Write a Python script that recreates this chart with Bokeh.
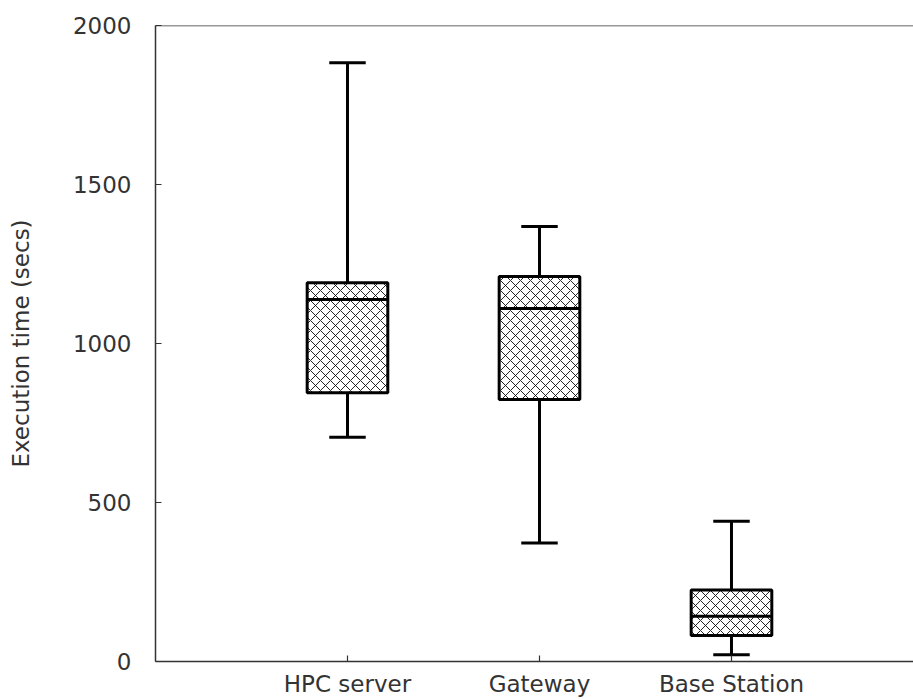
from bokeh.plotting import figure
from bokeh.models import Range1d, FixedTicker, Span
from bokeh.embed import file_html
from bokeh.resources import INLINE

categories = ["HPC server", "Gateway", "Base Station"]
positions = [1, 2, 3]
whisker_low = [705, 373, 21]
q1 = [845, 824, 82]
median = [1138, 1110, 142]
q3 = [1191, 1211, 225]
whisker_high = [1883, 1368, 441]
y_ticks = [0, 500, 1000, 1500, 2000]

box_half = 0.21
cap_half = 0.095

FONT = "DejaVu Sans"
TXT = "#333333"

p = figure(width=913, height=699, output_backend="svg", toolbar_location=None,
           x_range=Range1d(0, 3.948), y_range=Range1d(0, 2000),
           min_border_left=155, min_border_top=25, min_border_bottom=38, min_border_right=0)
p.outline_line_color = None
p.grid.visible = False
p.background_fill_color = "white"
p.border_fill_color = "white"

# whiskers
p.segment(x0=positions, y0=q3, x1=positions, y1=whisker_high, line_color="black", line_width=3)
p.segment(x0=positions, y0=whisker_low, x1=positions, y1=q1, line_color="black", line_width=3)
p.segment(x0=[x - cap_half for x in positions], y0=whisker_high,
          x1=[x + cap_half for x in positions], y1=whisker_high, line_color="black", line_width=3)
p.segment(x0=[x - cap_half for x in positions], y0=whisker_low,
          x1=[x + cap_half for x in positions], y1=whisker_low, line_color="black", line_width=3)

# boxes
p.quad(left=[x - box_half for x in positions], right=[x + box_half for x in positions],
       bottom=q1, top=q3, fill_color="white", line_color="black", line_width=3,
       hatch_pattern="diagonal_cross", hatch_color="black", hatch_scale=10,
       hatch_weight=1, hatch_alpha=0.85)
p.segment(x0=[x - box_half for x in positions], y0=median,
          x1=[x + box_half for x in positions], y1=median, line_color="black", line_width=3)

# top border
p.add_layout(Span(location=2000, dimension="width", line_color="#333333", line_width=1.5))

# axes
p.xaxis.ticker = FixedTicker(ticks=positions)
p.xaxis.major_label_overrides = {pos: c for pos, c in zip(positions, categories)}
p.yaxis.ticker = FixedTicker(ticks=y_ticks)
for ax in (p.xaxis, p.yaxis):
    ax.axis_line_color = "#333333"
    ax.axis_line_width = 1.5
    ax.major_tick_line_color = "#333333"
    ax.major_tick_line_width = 1.2
    ax.major_tick_in = 6
    ax.major_tick_out = 0
    ax.minor_tick_line_color = None
    ax.major_label_text_font = FONT
    ax.major_label_text_font_size = "23px"
    ax.major_label_text_color = TXT
p.xaxis.major_label_standoff = 9
p.yaxis.major_label_standoff = 24
p.yaxis.axis_label = "Execution time (secs)"
p.yaxis.axis_label_text_font = FONT
p.yaxis.axis_label_text_font_size = "23px"
p.yaxis.axis_label_text_font_style = "normal"
p.yaxis.axis_label_text_color = TXT
p.yaxis.axis_label_standoff = 36

open("out.html", "w").write(file_html(p, INLINE))
